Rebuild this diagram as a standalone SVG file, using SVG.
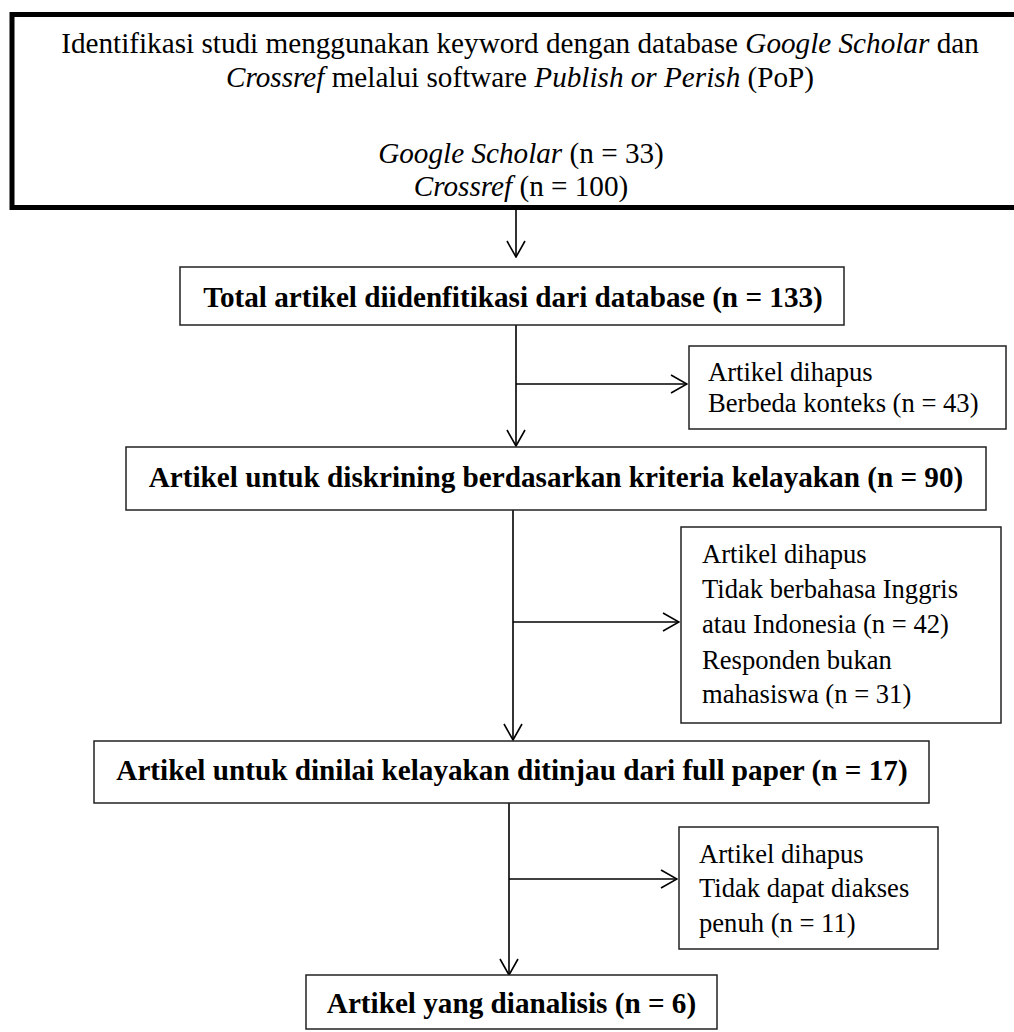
<svg xmlns="http://www.w3.org/2000/svg" width="1014" height="1032" viewBox="0 0 1014 1032">
<defs>
<style>
.box{fill:#fff;stroke:#222;stroke-width:1.5}
.thick{fill:#fff;stroke:#000;stroke-width:5}
.main{font-family:"Liberation Serif","Times New Roman",serif;font-size:29.2px;fill:#000}
.bold{font-family:"Liberation Serif","Times New Roman",serif;font-size:29.2px;font-weight:bold;fill:#000}
.side{font-family:"Liberation Serif","Times New Roman",serif;font-size:26.6px;fill:#000}
.it{font-style:italic}
.conn{fill:none;stroke:#000;stroke-width:1.6}
</style>
<marker id="arr" viewBox="0 0 18 20" refX="17" refY="10" markerWidth="18" markerHeight="20" markerUnits="userSpaceOnUse" orient="auto">
<path d="M1,1 L17,10 L1,19" fill="none" stroke="#000" stroke-width="1.6"/>
</marker>
</defs>
<rect width="1014" height="1032" fill="#fff"/>

<g id="connectors">
<path class="conn" d="M516,210 V257" marker-end="url(#arr)"/>
<path class="conn" d="M516,325 V446" marker-end="url(#arr)"/>
<path class="conn" d="M516,384 H687" marker-end="url(#arr)"/>
<path class="conn" d="M513,510 V740" marker-end="url(#arr)"/>
<path class="conn" d="M513,622 H679" marker-end="url(#arr)"/>
<path class="conn" d="M509,803 V975" marker-end="url(#arr)"/>
<path class="conn" d="M509,879 H677" marker-end="url(#arr)"/>
</g>

<g id="identification">
<rect class="thick" x="12" y="14.5" width="1020" height="193"/>
<text class="main" x="520" y="53" text-anchor="middle">Identifikasi studi menggunakan keyword dengan database <tspan class="it">Google Scholar</tspan> dan</text>
<text class="main" x="520" y="87" text-anchor="middle"><tspan class="it">Crossref</tspan> melalui software <tspan class="it">Publish or Perish</tspan> (PoP)</text>
<text class="main" x="521" y="163" text-anchor="middle"><tspan class="it">Google Scholar</tspan> (n = 33)</text>
<text class="main" x="521" y="196" text-anchor="middle"><tspan class="it">Crossref</tspan> (n = 100)</text>
</g>

<g id="total">
<rect class="box" x="180" y="267" width="664" height="58"/>
<text class="bold" x="513" y="307" text-anchor="middle">Total artikel diidenfitikasi dari database (n = 133)</text>
</g>

<g id="removed1">
<rect class="box" x="689" y="346" width="317" height="83"/>
<text class="side" x="708" y="381">Artikel dihapus</text>
<text class="side" x="708" y="412">Berbeda konteks (n = 43)</text>
</g>

<g id="screening">
<rect class="box" x="126" y="447" width="860" height="63"/>
<text class="bold" x="556" y="487" text-anchor="middle">Artikel untuk diskrining berdasarkan kriteria kelayakan (n = 90)</text>
</g>

<g id="removed2">
<rect class="box" x="681" y="527" width="320" height="196"/>
<text class="side" x="702" y="563">Artikel dihapus</text>
<text class="side" x="702" y="598">Tidak berbahasa Inggris</text>
<text class="side" x="702" y="633">atau Indonesia (n = 42)</text>
<text class="side" x="702" y="669">Responden bukan</text>
<text class="side" x="702" y="703">mahasiswa (n = 31)</text>
</g>

<g id="eligibility">
<rect class="box" x="94" y="741" width="835" height="62"/>
<text class="bold" x="512" y="780" text-anchor="middle">Artikel untuk dinilai kelayakan ditinjau dari full paper (n = 17)</text>
</g>

<g id="removed3">
<rect class="box" x="679" y="827" width="259" height="122"/>
<text class="side" x="699" y="863">Artikel dihapus</text>
<text class="side" x="699" y="897">Tidak dapat diakses</text>
<text class="side" x="699" y="932">penuh (n = 11)</text>
</g>

<g id="analysed">
<rect class="box" x="306" y="975" width="411" height="54"/>
<text class="bold" x="511.5" y="1013" text-anchor="middle">Artikel yang dianalisis (n = 6)</text>
</g>
</svg>
